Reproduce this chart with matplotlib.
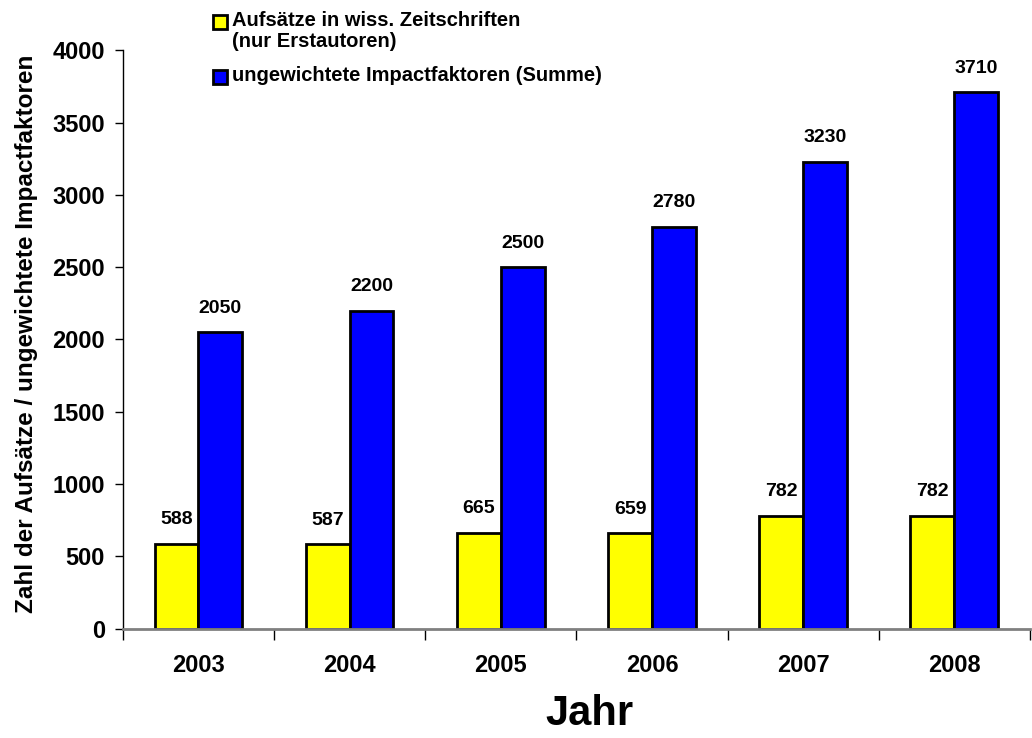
import matplotlib.pyplot as plt
from matplotlib.patches import Rectangle
import numpy as np

years = ['2003', '2004', '2005', '2006', '2007', '2008']
aufsaetze = [588, 587, 665, 659, 782, 782]
impact = [2050, 2200, 2500, 2780, 3230, 3710]

labels = ['Aufsätze in wiss. Zeitschriften\n(nur Erstautoren)',
          'ungewichtete Impactfaktoren (Summe)']
colors = ['#ffff00', '#0000ff']

plt.rcParams['font.family'] = ['Liberation Sans', 'DejaVu Sans']
plt.rcParams['font.weight'] = 'bold'

fig = plt.figure(figsize=(10.32, 7.38), dpi=100)
ax = fig.add_axes([0.119, 0.148, 0.879, 0.784])

x = np.arange(len(years))
w = 0.29
b1 = ax.bar(x - w / 2, aufsaetze, w, color=colors[0], edgecolor='black', linewidth=2)
b2 = ax.bar(x + w / 2, impact, w, color=colors[1], edgecolor='black', linewidth=2)

for bars, vals in [(b1, aufsaetze), (b2, impact)]:
    for r, v in zip(bars, vals):
        ax.annotate(str(v), (r.get_x() + r.get_width() / 2, v), xytext=(0, 11),
                    textcoords='offset points', ha='center', va='bottom',
                    fontsize=14, fontweight='bold')

ax.set_xlim(-0.5, len(years) - 0.5)
ax.set_ylim(0, 4000)
ax.set_yticks(range(0, 4001, 500))
ax.tick_params(axis='y', labelsize=17, length=6, width=1, pad=7)

# category labels centred, ticks on the boundaries
ax.set_xticks(x)
ax.set_xticklabels(years, fontsize=17, fontweight='bold')
ax.tick_params(axis='x', length=0, pad=18)
ax.set_xticks(np.arange(-0.5, len(years)), minor=True)
ax.tick_params(axis='x', which='minor', length=8, width=1, color='black')

ax.spines['top'].set_visible(False)
ax.spines['right'].set_visible(False)
ax.spines['bottom'].set_color('gray')
ax.spines['bottom'].set_linewidth(2)
ax.spines['left'].set_linewidth(1)

ax.set_xlabel('Jahr', fontsize=30, fontweight='bold', va='center')
ax.xaxis.set_label_coords(0.514, -0.148)
ax.set_ylabel('Zahl der Aufsätze / ungewichtete Impactfaktoren', fontsize=17.5,
              fontweight='bold', va='center')
ax.yaxis.set_label_coords(-0.106, 0.51)

# legend drawn by hand: square aligned with the first line of each entry
W, H = 1032, 738
for lab, col, ytop in zip(labels, colors, [15, 70]):
    fig.patches.append(Rectangle((213 / W, 1 - (ytop + 14) / H), 14 / W, 14 / H,
                                 transform=fig.transFigure, facecolor=col,
                                 edgecolor='black', linewidth=2))
    fig.text(232 / W, 1 - (ytop - 4) / H, lab, ha='left', va='top', fontsize=14.5,
             fontweight='bold', linespacing=1.15)

fig.savefig('out.png', dpi=100)
